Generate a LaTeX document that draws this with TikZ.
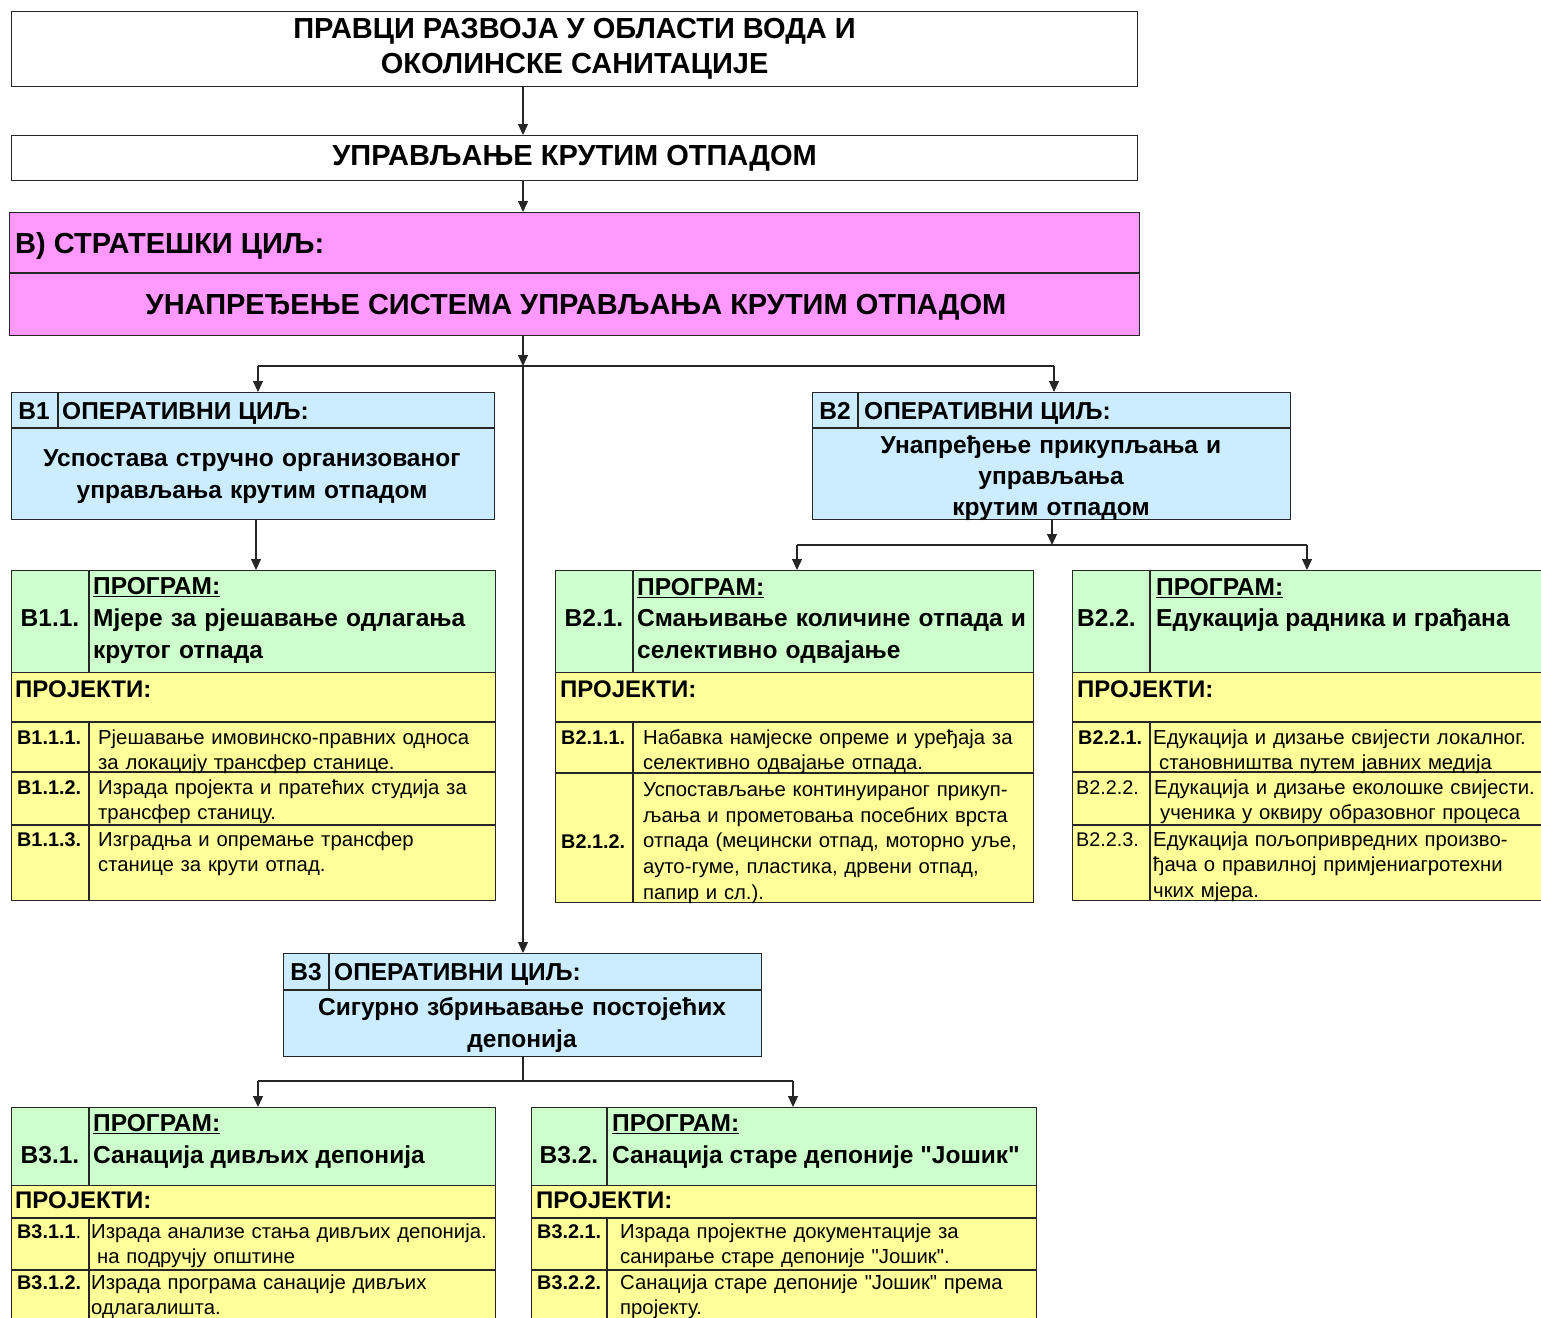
\documentclass[tikz,border=0pt]{standalone}
\usepackage{fontspec}
\setmainfont{Liberation Sans}
\usetikzlibrary{arrows.meta}
\definecolor{pinkC}{HTML}{FF99FF}
\definecolor{blueC}{HTML}{CCECFF}
\definecolor{greenC}{HTML}{CCFFCC}
\definecolor{yellowC}{HTML}{FFFF99}
\newcommand{\qq}{\textquotedbl}
\begin{document}
\begin{tikzpicture}[x=1pt, y=-1pt,
                box/.style={draw=black!85, line width=1.2pt, inner sep=0pt, anchor=north west},
                grid/.style={draw=black!85, line width=1.2pt},
                link/.style={draw=black!85, line width=1.1pt},
                arr/.style={link, -{Triangle[length=11pt, width=10pt]}},
                ttl/.style={font=\fontsize{29}{35}\selectfont\bfseries, inner sep=0pt},
                hdr/.style={font=\fontsize{24.5}{30}\selectfont\bfseries, inner sep=0pt},
                bod/.style={font=\fontsize{24.5}{31.5}\selectfont\bfseries, inner sep=0pt},
                prj/.style={font=\fontsize{24}{26}\selectfont\bfseries, inner sep=0pt, anchor=base west},
                num/.style={font=\fontsize{19.8}{25.5}\selectfont, inner sep=0pt, anchor=base west},
                ids/.style={num, font=\fontsize{19.8}{25.5}\selectfont\bfseries},
                itm/.style={num, font=\fontsize{20.3}{25.5}\selectfont, text width=420pt, align=left}]
                \useasboundingbox (0,0) rectangle (1541,1317);
                \clip (0,0) rectangle (1541,1317);

                \node[box, ttl, align=center, minimum width=1126pt, minimum height=75pt] (head) at (11,11)
                    {ПРАВЦИ РАЗВОЈА У ОБЛАСТИ ВОДА И\\ОКОЛИНСКЕ САНИТАЦИЈЕ};
                \node[box, ttl, minimum width=1126pt, minimum height=45pt] (mgmt) at (11,135)
                    {УПРАВЉАЊЕ КРУТИМ ОТПАДОМ};

                \node[box, fill=pinkC, minimum width=1130pt, minimum height=123pt] (aim) at (9,212) {};
                \draw[grid] (9,273) -- (1139,273);
                \node[ttl, anchor=base west] (aimHead) at (15,253.4) {В) СТРАТЕШКИ ЦИЉ:};
                \node[ttl, anchor=base] (aimText) at (576,314.4) {УНАПРЕЂЕЊЕ СИСТЕМА УПРАВЉАЊА КРУТИМ ОТПАДОМ};

                \node[box, fill=blueC, minimum width=483pt, minimum height=127pt] (b1) at (11,392) {};
                \draw[grid] (11,428) -- (494,428);
                \draw[grid] (58,392) -- (58,428);
                \node[hdr, anchor=base] (b1Num) at (34,419) {В1};
                \node[hdr, anchor=base west] (b1Head) at (62,419) {ОПЕРАТИВНИ ЦИЉ:};
                \node[bod, anchor=base, text width=470pt, align=center] (b1Text) at (252,466.8)
                    {Успостава стручно организованог\\управљања крутим отпадом};

                \node[box, fill=blueC, minimum width=478pt, minimum height=127pt] (b2) at (812,392) {};
                \draw[grid] (812,428) -- (1290,428);
                \draw[grid] (858,392) -- (858,428);
                \node[hdr, anchor=base] (b2Num) at (835,419) {В2};
                \node[hdr, anchor=base west] (b2Head) at (864,419) {ОПЕРАТИВНИ ЦИЉ:};
                \node[bod, anchor=base, text width=470pt, align=center, font=\fontsize{24.5}{31}\selectfont\bfseries] (b2Text) at (1051,453.8)
                    {Унапређење прикупљања и\\управљања\\крутим отпадом};

                \node[box, fill=blueC, minimum width=478pt, minimum height=103pt] (b3) at (283,953) {};
                \draw[grid] (283,990) -- (761,990);
                \draw[grid] (329,953) -- (329,990);
                \node[hdr, anchor=base] (b3Num) at (306,980) {В3};
                \node[hdr, anchor=base west] (b3Head) at (334,980) {ОПЕРАТИВНИ ЦИЉ:};
                \node[bod, anchor=base, text width=470pt, align=center, font=\fontsize{24.5}{32}\selectfont\bfseries] (b3Text) at (522,1015.8)
                    {Сигурно збрињавање постојећих\\депонија};

                \node[box, fill=yellowC, minimum width=484pt, minimum height=330pt] (p11) at (11,570) {};
                \node[box, fill=greenC, minimum width=484pt, minimum height=102pt] (p11g) at (11,570) {};
                \draw[grid] (89,570) -- (89,672) (89,722) -- (89,900);
                \draw[grid] (11,722) -- (495,722) (11,772) -- (495,772) (11,825) -- (495,825);
                \node[bod, anchor=base] (p11Num) at (50,626.8) {В1.1.};
                \node[bod, anchor=base west] (p11Head) at (93,594.8) {\underline{ПРОГРАМ:}};
                \node[bod, anchor=base west, text width=400pt, align=left] (p11Text) at (93,626.8)
                    {Мјере за рјешавање одлагања\\крутог отпада};
                \node[prj] (p11Prj) at (15,697.8) {ПРОЈЕКТИ:};
                \node[ids] (p111n) at (17,744.3) {В1.1.1.};
                \node[itm] (p111t) at (98,744.3) {Рјешавање имовинско-правних односа\\за локацију трансфер станице.};
                \node[ids] (p112n) at (17,794.3) {В1.1.2.};
                \node[itm] (p112t) at (98,794.3) {Израда пројекта и пратећих студија за\\трансфер станицу.};
                \node[ids] (p113n) at (17,846.3) {В1.1.3.};
                \node[itm] (p113t) at (98,846.3) {Изградња и опремање трансфер\\станице за крути отпад.};

                \node[box, fill=yellowC, minimum width=478pt, minimum height=332pt] (p21) at (555,570) {};
                \node[box, fill=greenC, minimum width=478pt, minimum height=102pt] (p21g) at (555,570) {};
                \draw[grid] (633,570) -- (633,672) (633,722) -- (633,902);
                \draw[grid] (555,722) -- (1033,722) (555,773) -- (1033,773);
                \node[bod, anchor=base] (p21Num) at (594,626.8) {В2.1.};
                \node[bod, anchor=base west] (p21Head) at (637,595.8) {\underline{ПРОГРАМ:}};
                \node[bod, anchor=base west, text width=400pt, align=left, font=\fontsize{24.5}{32}\selectfont\bfseries] (p21Text) at (637,626.8)
                    {Смањивање количине отпада и\\селективно одвајање};
                \node[prj] (p21Prj) at (560,697.8) {ПРОЈЕКТИ:};
                \node[ids] (p211n) at (561,744.3) {В2.1.1.};
                \node[itm] (p211t) at (643,744.3) {Набавка намјеске опреме и уређаја за\\селективно одвајање отпада.};
                \node[ids] (p212n) at (561,848.3) {В2.1.2.};
                \node[itm, font=\fontsize{20.3}{25.75}\selectfont] (p212t) at (643,796.3)
                    {Успостављање континуираног прикуп-\\љања и прометовања посебних врста\\отпада (мецински отпад, моторно уље,\\ауто-гуме, пластика, дрвени отпад,\\папир и сл.).};

                \node[box, fill=yellowC, minimum width=478pt, minimum height=330pt] (p22) at (1072,570) {};
                \node[box, fill=greenC, minimum width=478pt, minimum height=102pt] (p22g) at (1072,570) {};
                \draw[grid] (1150,570) -- (1150,672) (1150,722) -- (1150,900);
                \draw[grid] (1072,722) -- (1550,722) (1072,772) -- (1550,772) (1072,825) -- (1550,825);
                \node[bod, anchor=base west] (p22Num) at (1077,626.8) {В2.2.};
                \node[bod, anchor=base west] (p22Head) at (1156,595.8) {\underline{ПРОГРАМ:}};
                \node[bod, anchor=base west] (p22Text) at (1156,626.8) {Едукација радника и грађана};
                \node[prj] (p22Prj) at (1077,697.8) {ПРОЈЕКТИ:};
                \node[ids] (p221n) at (1078,744.3) {В2.2.1.};
                \node[itm] (p221t) at (1153,744.3) {Едукација и дизање свијести локалног.\\\hspace*{6pt}становништва путем јавних медија};
                \node[num] (p222n) at (1076,794.3) {В2.2.2.};
                \node[itm] (p222t) at (1154,794.3) {Едукација и дизање еколошке свијести.\\\hspace*{6pt}ученика у оквиру образовног процеса};
                \node[num] (p223n) at (1076,846.3) {В2.2.3.};
                \node[itm] (p223t) at (1153,846.3) {Едукација пољопривредних произво-\\ђача о правилној примјениагротехни\\чких мјера.};

                \node[box, fill=yellowC, minimum width=484pt, minimum height=223pt] (p31) at (11,1107) {};
                \node[box, fill=greenC, minimum width=484pt, minimum height=78pt] (p31g) at (11,1107) {};
                \draw[grid] (89,1107) -- (89,1185) (89,1218) -- (89,1330);
                \draw[grid] (11,1218) -- (495,1218) (11,1270) -- (495,1270);
                \node[bod, anchor=base] (p31Num) at (50,1163.8) {В3.1.};
                \node[bod, anchor=base west] (p31Head) at (93,1131.8) {\underline{ПРОГРАМ:}};
                \node[bod, anchor=base west] (p31Text) at (93,1163.8) {Санација дивљих депонија};
                \node[prj] (p31Prj) at (15,1208.8) {ПРОЈЕКТИ:};
                \node[num] (p311n) at (17,1238.3) {\textbf{В3.1.1}.};
                \node[itm] (p311t) at (91,1238.3) {Израда анализе стања дивљих депонија.\\\hspace*{6pt}на подручју општине};
                \node[ids] (p312n) at (17,1289.3) {В3.1.2.};
                \node[itm] (p312t) at (91,1289.3) {Израда програма санације дивљих\\одлагалишта.};

                \node[box, fill=yellowC, minimum width=505pt, minimum height=223pt] (p32) at (531,1107) {};
                \node[box, fill=greenC, minimum width=505pt, minimum height=78pt] (p32g) at (531,1107) {};
                \draw[grid] (607,1107) -- (607,1185) (607,1218) -- (607,1330);
                \draw[grid] (531,1218) -- (1036,1218) (531,1270) -- (1036,1270);
                \node[bod, anchor=base] (p32Num) at (569,1163.8) {В3.2.};
                \node[bod, anchor=base west] (p32Head) at (612,1131.8) {\underline{ПРОГРАМ:}};
                \node[bod, anchor=base west] (p32Text) at (612,1163.8) {Санација старе депоније \qq Јошик\qq};
                \node[prj] (p32Prj) at (536,1208.8) {ПРОЈЕКТИ:};
                \node[ids] (p321n) at (537,1238.3) {В3.2.1.};
                \node[itm] (p321t) at (620,1238.3) {Израда пројектне документације за\\санирање старе депоније \qq Јошик\qq.};
                \node[ids] (p322n) at (537,1289.3) {В3.2.2.};
                \node[itm] (p322t) at (620,1289.3) {Санација старе депоније \qq Јошик\qq{} према\\пројекту.};

                \coordinate (spine) at (523,366);
                \coordinate (fl) at (258,366);
                \coordinate (fr) at (1054,366);
                \coordinate (c1) at (256,519);
                \coordinate (c2) at (1052,545);
                \coordinate (g1) at (797,545);
                \coordinate (g2) at (1307,545);
                \coordinate (c3) at (523,1081);
                \coordinate (h1) at (258,1081);
                \coordinate (h2) at (793,1081);

                \draw[arr] (head.south -| spine) -- (mgmt.north -| spine);
                \draw[arr] (mgmt.south -| spine) -- (aim.north -| spine);
                \draw[arr] (aim.south -| spine) -- (spine);
                \draw[link] (fl) -- (fr);
                \draw[arr] (fl) -- (fl |- b1.north);
                \draw[arr] (fr) -- (fr |- b2.north);
                \draw[arr] (spine) -- (spine |- b3.north);
                \draw[arr] (b1.south -| c1) -- (p11.north -| c1);
                \draw[arr] (b2.south -| c2) -- (c2);
                \draw[link] (g1) -- (g2);
                \draw[arr] (g1) -- (g1 |- p21.north);
                \draw[arr] (g2) -- (g2 |- p22.north);
                \draw[link] (b3.south -| c3) -- (c3);
                \draw[link] (h1) -- (h2);
                \draw[arr] (h1) -- (h1 |- p31.north);
                \draw[arr] (h2) -- (h2 |- p32.north);
\end{tikzpicture}
\end{document}
